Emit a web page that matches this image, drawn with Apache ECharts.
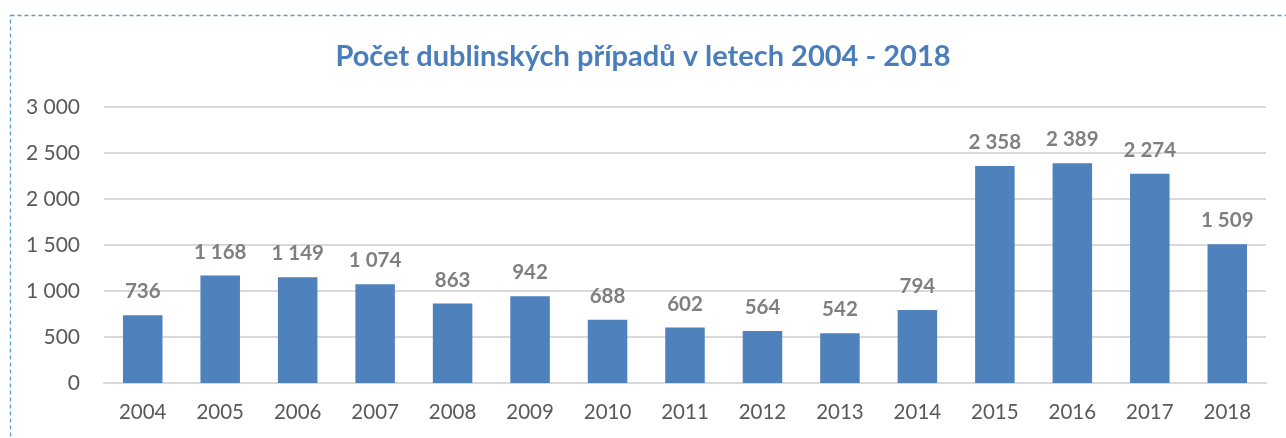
<!DOCTYPE html>
<html><head><meta charset="utf-8">
<script src="https://cdn.jsdelivr.net/npm/echarts@6/dist/echarts.min.js"></script>
<style>html,body{margin:0;padding:0;background:#fff}#c{width:1286px;height:438px}</style>
</head><body><div id="c"></div>
<script>
const title = 'Počet dublinských případů v letech 2004 - 2018';
const years = ['2004','2005','2006','2007','2008','2009','2010','2011','2012','2013','2014','2015','2016','2017','2018'];
const cases = [736,1168,1149,1074,863,942,688,602,564,542,794,2358,2389,2274,1509];
const yTicks = {min:0, max:3000, interval:500};

function fmt(v){return String(v).replace(/\B(?=(\d{3})+(?!\d))/g,' ');}
const chart = echarts.init(document.getElementById('c'));
chart.setOption({
  animation:false,
  textStyle:{fontFamily:'Lato'},
  title:{text:title,left:'center',top:37,textStyle:{color:'#4a7ebb',fontSize:29,fontWeight:'bold',fontFamily:'Lato'}},
  graphic:[{type:'rect',shape:{x:10.5,y:15.5,width:1300,height:440},style:{fill:'none',stroke:'#5b9bd5',lineWidth:1.3,lineDash:[4,3]}}],
  grid:{left:104,right:20,top:107,bottom:55},
  xAxis:{type:'category',data:years,axisTick:{show:false},axisLine:{lineStyle:{color:'#d9d9d9',width:2}},
    axisLabel:{color:'#595959',fontSize:20.5,margin:19}},
  yAxis:{type:'value',min:yTicks.min,max:yTicks.max,interval:yTicks.interval,
    axisLabel:{color:'#595959',fontSize:21,margin:24,formatter:fmt},
    splitLine:{lineStyle:{color:'#d9d9d9',width:2}},axisLine:{show:false},axisTick:{show:false}},
  series:[{type:'bar',data:cases,barWidth:'51%',itemStyle:{color:'#4f81bd'},
    label:{show:true,position:'top',distance:13,color:'#7f7f7f',fontSize:20.5,fontWeight:'bold',formatter:p=>fmt(p.value)}}]
});
</script></body></html>
